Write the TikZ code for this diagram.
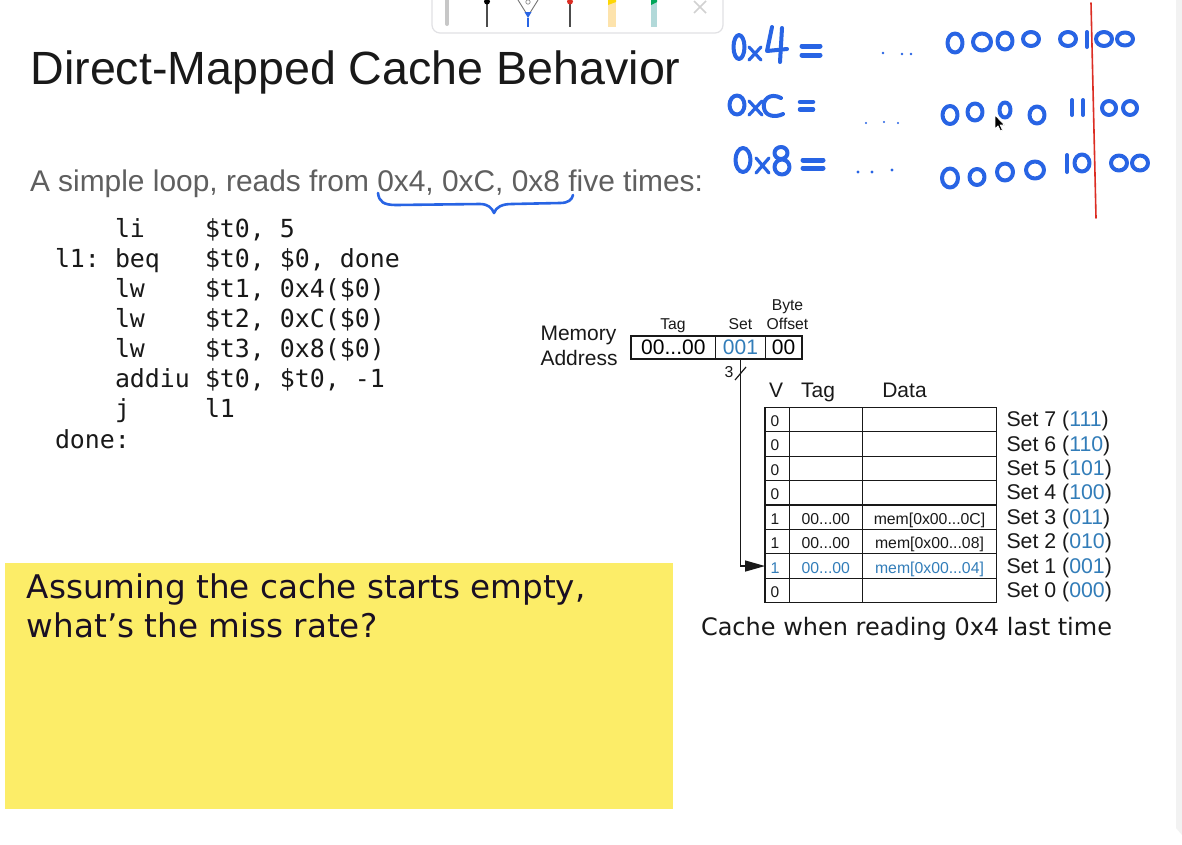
\documentclass[tikz,border=0pt]{standalone}
\usepackage{fontspec}
\setmainfont{Liberation Sans}
\newfontfamily\djsans{DejaVu Sans}
\newfontfamily\djmono{DejaVu Sans Mono}
\usetikzlibrary{arrows.meta}
\newcommand\setfs[1]{\fontsize{#1pt}{#1pt}\selectfont}

\definecolor{ink}{RGB}{25,25,25}
\definecolor{subgray}{RGB}{95,95,95}
\definecolor{setblue}{RGB}{50,125,185}
\definecolor{penblue}{RGB}{40,100,228}
\definecolor{penred}{RGB}{220,45,35}
\definecolor{sticky}{RGB}{252,237,104}
\definecolor{barline}{RGB}{225,225,228}

\tikzset{
  txt/.style={inner sep=0pt, outer sep=0pt, text=ink},
  hand/.style={draw=penblue, line width=4pt, line cap=round, line join=round},
  cell/.style={draw=ink, line width=1.2pt, minimum height=24.42pt, inner sep=0pt, outer sep=0pt},
  field/.style={draw=ink, line width=1.2pt, minimum height=23pt, inner sep=0pt, outer sep=0pt, font=\setfs{21}},
  small/.style={txt, font=\setfs{15.7}},
  mid/.style={txt, font=\setfs{21}},
  tiny/.style={txt, font=\setfs{15.8}},
  code/.style={txt, anchor=base west, font=\djmono\setfs{24.9}},
}

\begin{document}
\begin{tikzpicture}[x=1pt,y=-1pt]
\useasboundingbox (0,0) rectangle (1182,844);
\fill[white] (0,0) rectangle (1182,844);

% scroll strip on the right edge
\fill[black!5] (1176,0) -- (1182,0) -- (1182,835) -- (1176,828) -- cycle;

% pen toolbar at the top
\draw[barline, line width=1.2pt, fill=white, rounded corners=8pt] (432,-12) rectangle (723,33);
\draw[black!22, line width=4pt, line cap=round] (447,0) -- (447,24);
\draw[black!70, line width=1.1pt] (487,2) -- (487,27);
\fill[black] (487,1.5) circle (3);
\draw[black!55, line width=0.9pt] (518,0) -- (528,16) -- (538,0);
\draw[black!45, line width=0.7pt] (528,2) circle (2.2);
\fill[penblue] (524.5,12) -- (531.5,12) -- (528,18) -- cycle;
\draw[penblue, line width=1.1pt] (528,18) -- (528,27);
\draw[black!70, line width=1.1pt] (570,2) -- (570,27);
\fill[penred] (570,1.5) circle (3);
\fill[yellow!35!orange!30] (608,0) rectangle (616,27);
\fill[yellow!75!orange] (608,0) -- (616,0) -- (616,2) -- (608,5) -- cycle;
\fill[teal!30] (651,0) rectangle (657,27);
\fill[teal!70!green] (651,0) -- (657,0) -- (657,2) -- (651,5) -- cycle;
\draw[black!18, line width=1.5pt] (694,1) -- (706,13) (706,1) -- (694,13);

% heading and intro line
\node[txt, anchor=base west, font=\setfs{46.6}] (title) at (30.5,84) {Direct-Mapped Cache Behavior};
\node[txt, anchor=base west, text=subgray, font=\setfs{29.9}] (intro) at (30,191) {A simple loop, reads from 0x4, 0xC, 0x8 five times:};

% assembly listing
\node[code] (op1) at (115,237) {li};
\node[code] (ar1) at (205,237) {\$t0, 5};
\node[code] (lb2) at (55,267.1) {l1:};
\node[code] (op2) at (115,267.1) {beq};
\node[code] (ar2) at (205,267.1) {\$t0, \$0, done};
\node[code] (op3) at (115,297.3) {lw};
\node[code] (ar3) at (205,297.3) {\$t1, 0x4(\$0)};
\node[code] (op4) at (115,327.4) {lw};
\node[code] (ar4) at (205,327.4) {\$t2, 0xC(\$0)};
\node[code] (op5) at (115,357.6) {lw};
\node[code] (ar5) at (205,357.6) {\$t3, 0x8(\$0)};
\node[code] (op6) at (115,387.7) {addiu};
\node[code] (ar6) at (205,387.7) {\$t0, \$t0, -1};
\node[code] (op7) at (115,417.9) {j};
\node[code] (ar7) at (205,417.9) {l1};
\node[code] (lb8) at (55,448) {done:};

% question note
\fill[sticky] (5,563) rectangle (673,809);
\node[txt, anchor=base west, font=\djsans\setfs{32.6}, text={rgb,255:red,25;green,15;blue,35}] (q1) at (27,598) {Assuming the cache starts empty,};
\node[txt, anchor=base west, font=\djsans\setfs{32.6}, text={rgb,255:red,25;green,15;blue,35}] (q2) at (27,637) {what’s the miss rate?};

% memory address fields
\node[mid, anchor=base west] (memA) at (540.5,340) {Memory};
\node[mid, anchor=base west] (memB) at (540.5,365) {Address};
\node[field, minimum width=84.7pt] (tagf) at (673.35,347.5) {00...00};
\node[field, minimum width=49.6pt, text=setblue] (setf) at (740.5,347.5) {001};
\node[field, minimum width=36.7pt] (offf) at (783.65,347.5) {00};
\node[small, anchor=base] (tagl) at (673,329) {Tag};
\node[small, anchor=base] (setl) at (740.5,329) {Set};
\node[small, anchor=base] (bytel) at (787.5,310) {Byte};
\node[small, anchor=base] (offl) at (787.5,329) {Offset};

% cache table header
\node[mid, anchor=base] (hV) at (776,397) {V};
\node[mid, anchor=base] (hT) at (818,397) {Tag};
\node[mid, anchor=base] (hD) at (904.5,397) {Data};

% cache rows, set 7 at the top
\foreach \r/\bin/\vb in {0/111/0,1/110/0,2/101/0,3/100/0,4/011/1,5/010/1,6/001/1,7/000/0} {
  \pgfmathsetmacro\yc{419.5+24.42*\r}
  \pgfmathtruncatemacro\s{7-\r}
  \node[cell, minimum width=24.3pt] (v\s) at (777.15,\yc) {};
  \node[cell, minimum width=73pt] (tg\s) at (825.8,\yc) {};
  \node[cell, minimum width=134.4pt] (dt\s) at (929.5,\yc) {};
  \node[txt, anchor=base west, font=\setfs{15.5}] (vb\s) at (770.5,\yc+7) {\vb};
  \node[txt, anchor=base west, font=\setfs{21.3}] (lab\s) at (1006.5,\yc+7.2) {Set \s\ (\textcolor{setblue}{\bin})};
}
\node[tiny, anchor=base] (tv3) at (825.8,524.2) {00...00};
\node[tiny, anchor=base] (dv3) at (929.5,524.2) {mem[0x00...0C]};
\node[tiny, anchor=base] (tv2) at (825.8,548.6) {00...00};
\node[tiny, anchor=base] (dv2) at (929.5,548.6) {mem[0x00...08]};
\node[tiny, anchor=base, text=setblue] (tv1) at (825.8,573.0) {00...00};
\node[tiny, anchor=base, text=setblue] (dv1) at (929.5,573.0) {mem[0x00...04]};
\fill[white] (769,558) rectangle (777,578);
\node[txt, anchor=base west, font=\setfs{15.5}, text=setblue] (vb1b) at (770.5,573.2) {1};

% set index connector
\draw[ink, line width=1.3pt, -{Triangle[length=20pt,width=11pt]}] (setf.south) |- (v1.west);
\draw[ink, line width=1.2pt] (735,380) -- (746,367);
\node[tiny, anchor=center] (bits) at (729,372) {3};

\node[txt, anchor=base west, font=\djsans\setfs{24}] (caption) at (701,635) {Cache when reading 0x4 last time};

% handwritten notes
\draw[hand, line width=2.6pt] (378,193) .. controls (379,202) and (384,205) .. (396,205) -- (480,204) .. controls (488,204) and (492,208) .. (494,213) .. controls (496,207) and (502,204) .. (512,204) -- (560,203) .. controls (568,203) and (572,200) .. (573,195);

% 0x4 row
\draw[hand] (739,47) ellipse [x radius=5.5, y radius=12];
\draw[hand, line width=3.2pt] (749,47) -- (761,60) (761,47) -- (749,60);
\draw[hand] (772,27) -- (767,51) -- (787,49);
\draw[hand] (782,28) -- (780,62);
\draw[hand, line width=5pt] (802,46) -- (820,46) (802,55) -- (820,55);
\fill[penblue] (883,53) circle (1.4) (902,54) circle (1.4) (911,54) circle (1.4);
\draw[hand] (955,43) ellipse [x radius=7.5, y radius=9.5];
\draw[hand] (982,42) ellipse [x radius=9, y radius=8.5];
\draw[hand] (1005,41) ellipse [x radius=7.5, y radius=8.5];
\draw[hand] (1031,39) ellipse [x radius=8, y radius=7];
\draw[hand] (1068,39) ellipse [x radius=8, y radius=7];
\draw[hand] (1087,32) -- (1087,47);
\draw[hand] (1104,39) ellipse [x radius=8, y radius=7];
\draw[hand] (1125,39) ellipse [x radius=8, y radius=6.5];

% 0xC row
\draw[hand] (737,105) ellipse [x radius=7.5, y radius=9.5];
\draw[hand, line width=3.2pt] (749,101) -- (762,115) (762,101) -- (749,115);
\draw[hand] (781,98) .. controls (770,92) and (762,100) .. (764,108) .. controls (765,116) and (775,118) .. (783,114);
\draw[hand, line width=4.5pt] (800,102) -- (813,102) (800,109.5) -- (813,109.5);
\fill[penblue] (866,123) circle (1.1) (884,122) circle (1.1) (898,123) circle (1.1);
\draw[hand] (950,115) ellipse [x radius=7.5, y radius=9];
\draw[hand] (975,112) ellipse [x radius=7.5, y radius=8.5];
\draw[hand] (1005,110) ellipse [x radius=5.5, y radius=7.5];
\draw[hand] (1037,115) ellipse [x radius=7.5, y radius=8.5];
\draw[hand] (1072,100) -- (1072,115) (1083,100) -- (1083,115);
\draw[hand] (1109,108) ellipse [x radius=7, y radius=7];
\draw[hand] (1130,108) ellipse [x radius=7, y radius=7];

% 0x8 row
\draw[hand] (743,160) ellipse [x radius=7.5, y radius=12];
\draw[hand, line width=3.2pt] (756,158) -- (769,173) (769,158) -- (756,173);
\draw[hand] (781,153) ellipse [x radius=6.5, y radius=6];
\draw[hand] (782,167) ellipse [x radius=7.5, y radius=7.5];
\draw[hand, line width=5pt] (803,160) -- (823,160) (803,168) -- (823,168);
\fill[penblue] (858,172) circle (1.6) (872,172) circle (1.6) (892,170) circle (1.6);
\draw[hand] (950,178) ellipse [x radius=8, y radius=9.5];
\draw[hand] (977,177) ellipse [x radius=7.5, y radius=8];
\draw[hand] (1005,172) ellipse [x radius=8, y radius=8.5];
\draw[hand] (1035,170) ellipse [x radius=9, y radius=8.5];
\draw[hand] (1067,155) -- (1067,172);
\draw[hand] (1082,163) ellipse [x radius=7.5, y radius=8.5];
\draw[hand] (1119,163) ellipse [x radius=8, y radius=7.5];
\draw[hand] (1140,163) ellipse [x radius=8, y radius=7.5];

% field boundary mark
\draw[penred, line width=1.6pt, line cap=round] (1091,3) -- (1096,218);

% mouse pointer
\filldraw[fill=black, draw=white, line width=0.8pt] (995,115) -- (995,129) -- (998,126) -- (1000.5,131) -- (1002.5,130) -- (1000.2,125) -- (1004.5,125) -- cycle;
\end{tikzpicture}
\end{document}
